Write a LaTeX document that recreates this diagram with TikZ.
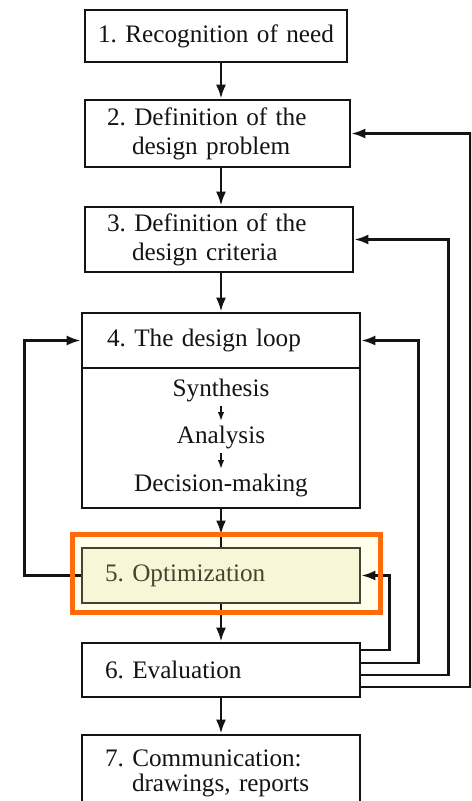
\documentclass[tikz,border=0pt]{standalone}
\usepackage{fontspec}
\setmainfont{Liberation Serif}
\usepackage{xcolor}
\usetikzlibrary{arrows.meta,positioning,calc}
\frenchspacing
\definecolor{ink}{HTML}{141414}
\definecolor{olive}{HTML}{45452F}
\definecolor{cream}{HTML}{FFFFEC}
\definecolor{paleyellow}{HTML}{F7F7D8}
\definecolor{hot}{HTML}{FF6A0A}
\tikzset{
  stage/.style={draw=ink,fill=white,line width=1.3pt,inner xsep=11.5pt,inner ysep=0pt,text width=#1,align=left,font=\fontsize{12.6}{14.5}\selectfont,text=ink},
  stage/.default=116pt,
  looptext/.style={inner sep=2pt,font=\fontsize{12.6}{14.5}\selectfont,text=ink},
  flow/.style={-{Latex[length=7pt,width=5pt]},line width=1.3pt,draw=ink},
  tinyflow/.style={-{Latex[length=4.5pt,width=3.2pt]},line width=0.9pt,draw=ink},
  link/.style={line width=1.3pt,draw=ink},
  hilite/.style={draw=hot,line width=2.5pt,fill=cream,outer sep=0pt,inner sep=0pt}
}

\begin{document}
\begin{tikzpicture}[x=0.5pt,y=-0.5pt]
  \clip (0,0) rectangle (471,801);
  \fill[white] (0,0) rectangle (471,801);
  % stages
  \node[stage=121pt,inner xsep=5pt,align=center,minimum height=26pt] (n1) at (216,36) {1. Recognition of need};
  \node[stage=110.5pt,inner xsep=11pt,minimum height=33.5pt] (n2) at (217.5,133.5) {2. Definition of the\\\hspace*{12.5pt}design problem};
  \node[stage=112pt,inner xsep=11pt,minimum height=32.5pt] (n3) at (219,239.5) {3. Definition of the\\\hspace*{12.5pt}design criteria};
  \node[stage=114pt,inner xsep=12.5pt,minimum height=27.5pt] (loophead) at (221,340.5) {4. The design loop};
  \node[stage,minimum height=70pt] (loopbody) at (221,438) {};
  \node[looptext] (syn) at (221,390) {Synthesis};
  \node[looptext] (ana) at (221,437) {Analysis};
  \node[looptext] (dec) at (221,485) {Decision-making};
  \node[hilite,minimum width=154pt,minimum height=39pt] (hl) at (226.5,573.5) {};
  \node[stage,draw=olive,fill=paleyellow,text=olive,minimum height=27.5pt] (n5) at (221,575.5) {5. Optimization};
  \node[stage,minimum height=27pt] (n6) at (221,670) {6. Evaluation};
  \node[stage,font=\fontsize{12.6}{12.5}\selectfont,minimum height=38.5pt] (n7) at (221,773.5) {7. Communication:\\\hspace*{13.5pt}drawings, reports};

  % main line
  \draw[flow] (n1.south -| loophead.south) -- (n2.north -| loophead.north);
  \draw[flow] (n2.south -| loophead.south) -- (n3.north -| loophead.north);
  \draw[flow] (n3.south -| loophead.south) -- (loophead.north);
  \draw[tinyflow] (syn) -- (ana);
  \draw[tinyflow] (ana) -- (dec);
  \draw[flow] (loopbody.south) -- (hl.north -| loopbody.south);
  \draw[link] (hl.north -| n5.north) -- (n5.north);
  \draw[flow] (n5) -- (n6);
  \draw[flow] (n6) -- (n7);

  % feedback
  \draw[flow] (n5.west) -- ++(-56,0) |- (loophead.west);
  \draw[flow] ($(n6.east)+(0,-20)$) -| ($(n5.east)+(28,0)$) -- (n5.east);
  \draw[flow] ($(n6.east)+(0,-7)$) -| ($(loophead.east)+(57,0)$) -- (loophead.east);
  \draw[flow] ($(n6.east)+(0,5)$) -| ($(n3.east)+(94,0)$) -- (n3.east);
  \draw[flow] ($(n6.east)+(0,17)$) -| ($(n2.east)+(119,0)$) -- (n2.east);

  % highlight frame on top
  \draw[draw=hot,line width=2.5pt] (hl.north west) rectangle (hl.south east);
\end{tikzpicture}
\end{document}
